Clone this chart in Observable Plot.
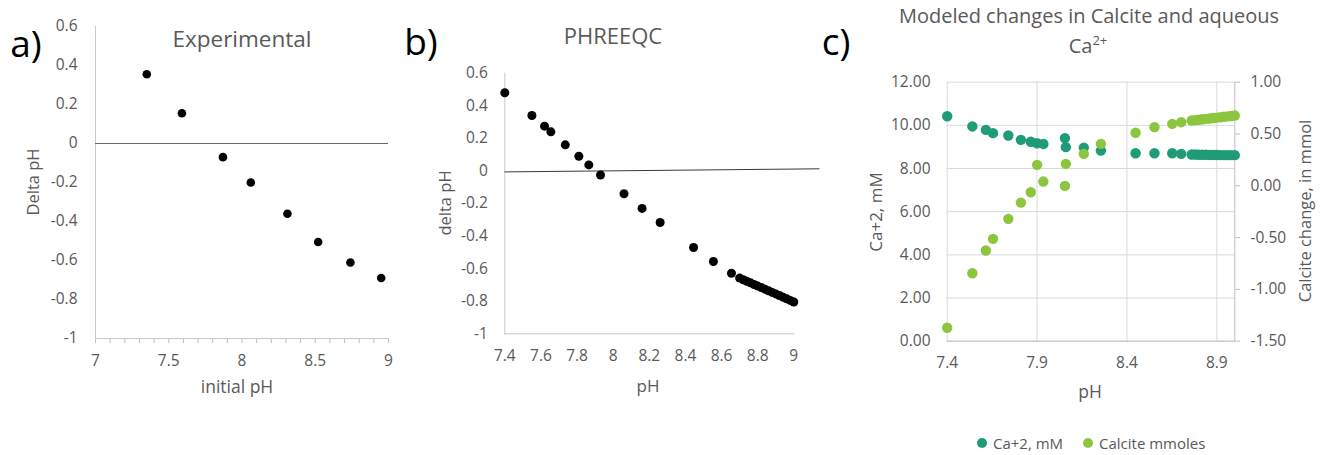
<!DOCTYPE html>
<html><head><meta charset="utf-8">
<script src="https://cdn.jsdelivr.net/npm/d3@7"></script>
<script src="https://cdn.jsdelivr.net/npm/@observablehq/plot@0.6"></script>
<style>
body{margin:0;background:#fff;}
#wrap{position:relative;width:1331px;height:455px;overflow:hidden;font-family:"Open Sans",Lato,sans-serif;color:#595959;background:#fff;}
.t{position:absolute;white-space:nowrap;line-height:1;transform:translate(-50%,-50%);}
.r{transform:translate(-50%,-50%) rotate(-90deg);}
.chart{position:absolute;top:0;}
.dot{position:absolute;width:10px;height:10px;border-radius:50%;transform:translate(-50%,-50%);}
.lg{position:absolute;white-space:nowrap;line-height:1;transform:translateY(-50%);font-size:15px;}
</style></head><body><div id="wrap"></div>
<script>
// ---- Panel a: Experimental ----
const aPH    = [7.35, 7.59, 7.87, 8.06, 8.31, 8.52, 8.74, 8.95];
const aDelta = [0.355, 0.155, -0.07, -0.2, -0.36, -0.505, -0.61, -0.69];
const aXTicks = [7, 7.5, 8, 8.5, 9];
const aXMinor = [7, 7.1, 7.2, 7.3, 7.4, 7.5, 7.6, 7.7, 7.8, 7.9, 8, 8.1, 8.2, 8.3, 8.4, 8.5, 8.6, 8.7, 8.8, 8.9, 9];
const aYTicks = [-1, -0.8, -0.6, -0.4, -0.2, 0, 0.2, 0.4, 0.6];

// ---- Panel b: PHREEQC ----
const bPH = [7.40, 7.55, 7.62, 7.655, 7.735, 7.81, 7.865, 7.93, 8.06, 8.16, 8.26, 8.445, 8.555, 8.655,
             8.70, 8.72, 8.74, 8.76, 8.78, 8.80, 8.82, 8.84, 8.86, 8.88, 8.90, 8.92, 8.94, 8.96, 8.98, 9.00];
const bDelta = [0.48, 0.34, 0.275, 0.24, 0.16, 0.09, 0.037, -0.025, -0.14, -0.23, -0.317, -0.47, -0.556, -0.628,
                -0.658, -0.668, -0.678, -0.687, -0.697, -0.707, -0.716, -0.726, -0.736, -0.746, -0.755, -0.765, -0.775, -0.785, -0.795, -0.805];
const bZeroLineX = [7.4, 9.14];
const bZeroLineY = [-0.006, 0.013];
const bXTicks = [7.4, 7.6, 7.8, 8, 8.2, 8.4, 8.6, 8.8, 9];
const bYTicks = [-1, -0.8, -0.6, -0.4, -0.2, 0, 0.2, 0.4, 0.6];

// ---- Panel c: Calcite and aqueous Ca2+ ----
const cPH = [7.40, 7.54, 7.615, 7.655, 7.74, 7.81, 7.865, 7.90, 7.935, 8.055, 8.06, 8.16, 8.255, 8.448, 8.553, 8.652, 8.702,
             8.76, 8.78, 8.80, 8.82, 8.84, 8.86, 8.88, 8.90, 8.92, 8.94, 8.96, 8.98, 9.00];
const cCa = [10.42, 9.95, 9.79, 9.64, 9.53, 9.33, 9.24, 9.17, 9.14, 9.41, 8.99, 8.97, 8.83, 8.71, 8.71, 8.71, 8.68,
             8.65, 8.65, 8.64, 8.64, 8.64, 8.63, 8.63, 8.63, 8.62, 8.62, 8.62, 8.62, 8.62];
const cCalcite = [-1.37, -0.844, -0.625, -0.512, -0.319, -0.162, -0.062, 0.202, 0.041, -0.001, 0.212, 0.308, 0.405, 0.512, 0.566, 0.598, 0.614,
                  0.630, 0.634, 0.638, 0.642, 0.646, 0.650, 0.654, 0.658, 0.662, 0.666, 0.670, 0.674, 0.678];
const cXTicks = [7.4, 7.9, 8.4, 8.9];
const cYTicks = [0, 2, 4, 6, 8, 10, 12];
const cRightTicks = [-1.5, -1, -0.5, 0, 0.5, 1];
const cRightDomain = [-1.5, 1];
const cLeftDomain = [0, 12];
const seriesNames = ["Ca+2, mM", "Calcite mmoles"];
const seriesColors = ["#1f9b78", "#8cc63f"];

const FONT = '"Open Sans", Lato, sans-serif';
const wrap = document.getElementById("wrap");
const fmt1 = d => String(+(+d).toFixed(1));
const baseStyle = {fontFamily: FONT, fontSize: "15.5px", color: "#595959", background: "transparent", overflow: "visible"};

function place(el, left) { el.classList.add("chart"); el.style.left = left + "px"; wrap.appendChild(el); }
function text(html, x, y, size, extra) {
  const d = document.createElement("div");
  d.className = "t" + (extra && extra.rot ? " r" : "");
  d.innerHTML = html;
  d.style.left = x + "px"; d.style.top = y + "px"; d.style.fontSize = size + "px";
  if (extra && extra.color) d.style.color = extra.color;
  if (extra && extra.weight) d.style.fontWeight = extra.weight;
  wrap.appendChild(d);
}

// Chart a
const aRows = aPH.map((p, i) => ({ph: p, delta: aDelta[i]}));
const chartA = Plot.plot({
  width: 400, height: 455, marginLeft: 95, marginRight: 12, marginTop: 26, marginBottom: 117,
  x: {domain: [7, 9]}, y: {domain: [-1, 0.6]}, style: baseStyle,
  marks: [
    Plot.axisY({ticks: aYTicks, tickSize: 0, tickPadding: 18, tickFormat: fmt1, label: null}),
    Plot.axisX({ticks: aXMinor, tickSize: 5, tickFormat: () => "", label: null, stroke: "#bfbfbf"}),
    Plot.axisX({ticks: aXTicks, tickSize: 0, tickPadding: 16, tickFormat: fmt1, label: null}),
    Plot.frame({anchor: "left", stroke: "#c8c8c8"}),
    Plot.frame({anchor: "bottom", stroke: "#c8c8c8"}),
    Plot.ruleY([0], {stroke: "#6a6a6a", strokeWidth: 1}),
    Plot.dot(aRows, {x: "ph", y: "delta", r: 4.3, fill: "black", stroke: "none"})
  ]
});
place(chartA, 0);

// Chart b
const bRows = bPH.map((p, i) => ({ph: p, delta: bDelta[i]}));
const bZero = bZeroLineX.map((p, i) => ({ph: p, delta: bZeroLineY[i]}));
const chartB = Plot.plot({
  width: 430, height: 455, marginLeft: 104.3, marginRight: 36.7, marginTop: 72.7, marginBottom: 121.7,
  x: {domain: [7.4, 9]}, y: {domain: [-1, 0.6]}, style: baseStyle,
  marks: [
    Plot.axisY({ticks: bYTicks, tickSize: 0, tickPadding: 17, tickFormat: fmt1, label: null}),
    Plot.axisX({ticks: bXTicks, tickSize: 0, tickPadding: 16, tickFormat: fmt1, label: null}),
    Plot.frame({anchor: "left", stroke: "#c8c8c8"}),
    Plot.frame({anchor: "bottom", stroke: "#c8c8c8"}),
    Plot.line(bZero, {x: "ph", y: "delta", stroke: "#3a3a3a", strokeWidth: 1}),
    Plot.dot(bRows, {x: "ph", y: "delta", r: 4.5, fill: "black", stroke: "none"})
  ]
});
place(chartB, 400);

// Chart c (secondary axis mapped onto the primary y scale)
const toLeft = v => cLeftDomain[0] + (v - cRightDomain[0]) / (cRightDomain[1] - cRightDomain[0]) * (cLeftDomain[1] - cLeftDomain[0]);
const fromLeft = v => cRightDomain[0] + (v - cLeftDomain[0]) / (cLeftDomain[1] - cLeftDomain[0]) * (cRightDomain[1] - cRightDomain[0]);
const caRows = cPH.map((p, i) => ({ph: p, v: cCa[i]}));
const calRows = cPH.map((p, i) => ({ph: p, v: toLeft(cCalcite[i])}));
const chartC = Plot.plot({
  width: 511, height: 455, marginLeft: 126.7, marginRight: 96.7, marginTop: 81.7, marginBottom: 114.3,
  x: {domain: [7.4, 9.0]}, y: {domain: cLeftDomain}, style: baseStyle,
  marks: [
    Plot.gridY(cYTicks, {stroke: "#d9d9d9", strokeOpacity: 1}),
    Plot.gridX(cXTicks, {stroke: "#d9d9d9", strokeOpacity: 1}),
    Plot.frame({anchor: "right", stroke: "#bfbfbf"}),
    Plot.frame({anchor: "bottom", stroke: "#bfbfbf"}),
    Plot.axisY({ticks: cYTicks, tickSize: 0, tickPadding: 16.7, tickFormat: d => (+d).toFixed(2), label: null}),
    Plot.axisY({anchor: "right", ticks: cRightTicks.map(toLeft), tickSize: 5, tickPadding: 10.7, stroke: "#bfbfbf",
                tickFormat: d => (Math.round(fromLeft(d) * 100) / 100 + 0).toFixed(2), label: null}),
    Plot.axisX({ticks: cXTicks, tickSize: 0, tickPadding: 16, tickFormat: d => (+d).toFixed(1), label: null}),
    Plot.dot(caRows, {x: "ph", y: "v", r: 5.2, fill: seriesColors[0], stroke: "none"}),
    Plot.dot(calRows, {x: "ph", y: "v", r: 5.2, fill: seriesColors[1], stroke: "none"})
  ]
});
place(chartC, 820);

// Panel letters and titles
text("a)", 26, 42, 37, {color: "#000"});
text("b)", 421, 40, 37, {color: "#000"});
text("c)", 836, 40, 37, {color: "#000"});
text("Experimental", 242, 39, 22.5);
text("PHREEQC", 613, 34.5, 22);
text("Modeled changes in Calcite and aqueous", 1089, 16, 20);
text("Ca<sup style=\"font-size:0.65em;vertical-align:0.55em\">2+</sup>", 1088, 45, 20);

// Axis titles
text("Delta pH", 33, 182, 16.5, {rot: true});
text("initial pH", 237, 387, 17.5);
text("delta pH", 445, 203, 16.5, {rot: true});
text("pH", 648, 385, 17);
text("Ca+2, mM", 875, 212, 17, {rot: true});
text("Calcite change, in mmol", 1305, 211, 16.5, {rot: true});
text("pH", 1090, 392, 17.5);

// Legend
const legendX = [982, 1088];
seriesNames.forEach((name, i) => {
  const d = document.createElement("div");
  d.className = "dot"; d.style.left = legendX[i] + "px"; d.style.top = "443px"; d.style.background = seriesColors[i];
  wrap.appendChild(d);
  const l = document.createElement("div");
  l.className = "lg"; l.textContent = name; l.style.left = (legendX[i] + 11) + "px"; l.style.top = "443px";
  wrap.appendChild(l);
});
</script></body></html>
